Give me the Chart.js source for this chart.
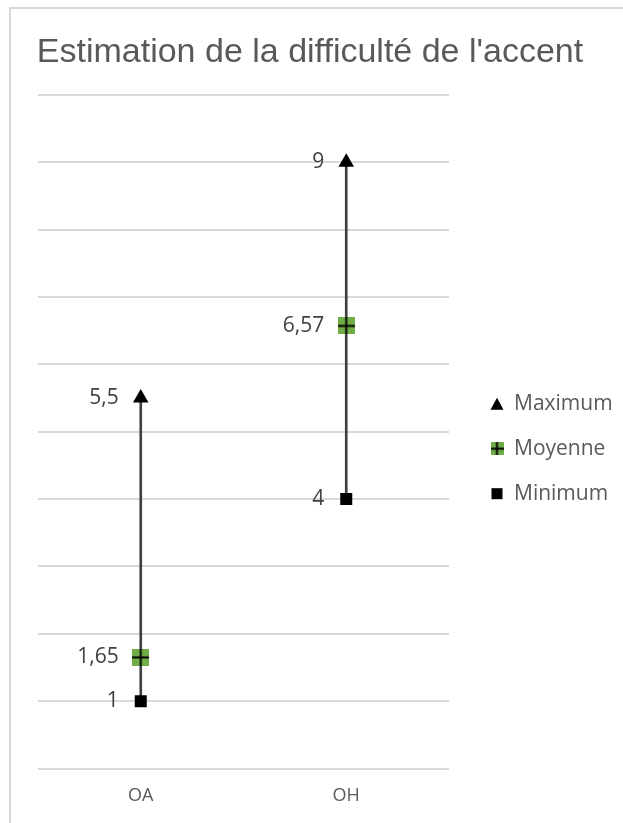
<!DOCTYPE html>
<html>
<head>
<meta charset="utf-8">
<script src="https://cdn.jsdelivr.net/npm/chart.js@4"></script>
<style>
    html, body { margin: 0; padding: 0; background: #fff; }
    #wrap { position: relative; width: 623px; height: 823px; overflow: hidden; }
    #frame { position: absolute; left: 9px; top: 7px; width: 700px; height: 900px; border: 2px solid #d9d9d9; box-sizing: border-box; }
    #accentChart { position: absolute; left: 0; top: 0; }
</style>
</head>
<body>
<div id="wrap">
    <div id="frame"></div>
    <canvas id="accentChart" width="623" height="823"></canvas>
</div>
<script>
var categories = ['OA', 'OH'];
var maxValues = [5.5, 9];
var meanValues = [1.65, 6.57];
var minValues = [1, 4];
var seriesNames = ['Maximum', 'Moyenne', 'Minimum'];
var yMin = 0, yMax = 10, yStep = 1;

var GRID = '#d9d9d9';
var TEXT = '#595959';
var LABEL = '#404040';
var GREEN = '#70ad47';
var FONT = '"Open Sans", sans-serif';

function meanMarker(size) {
    var c = document.createElement('canvas');
    c.width = size;
    c.height = size;
    var g = c.getContext('2d');
    g.fillStyle = GREEN;
    g.fillRect(0, 0, size, size);
    g.strokeStyle = '#000';
    g.lineWidth = 2;
    g.beginPath();
    g.moveTo(0, size / 2); g.lineTo(size, size / 2);
    g.moveTo(size / 2, 0); g.lineTo(size / 2, size);
    g.stroke();
    return c;
}

function fmt(v) {
    return String(v).replace('.', ',');
}

// labels to the left of each marker, like excel data labels
var valueLabels = {
    id: 'valueLabels',
    afterDatasetsDraw: function (chart) {
        var ctx = chart.ctx;
        ctx.save();
        ctx.font = '21px ' + FONT;
        ctx.fillStyle = LABEL;
        ctx.textAlign = 'right';
        ctx.textBaseline = 'middle';
        chart.data.datasets.forEach(function (ds, i) {
            if (ds.type === 'bar') return;
            chart.getDatasetMeta(i).data.forEach(function (pt, j) {
                ctx.fillText(fmt(ds.data[j]), pt.x - 22, pt.y);
            });
        });
        ctx.restore();
    }
};

// legend on the right side
var sideLegend = {
    id: 'sideLegend',
    afterDraw: function (chart) {
        var area = chart.chartArea;
        var ctx = chart.ctx;
        var x = area.right + 48;
        var y0 = (area.top + area.bottom) / 2 - 28;
        ctx.save();
        ctx.font = '21px ' + FONT;
        ctx.textAlign = 'left';
        ctx.textBaseline = 'middle';
        seriesNames.forEach(function (name, i) {
            var y = y0 + i * 45;
            if (i === 0) {
                ctx.fillStyle = '#000';
                ctx.beginPath();
                ctx.moveTo(x, y - 6);
                ctx.lineTo(x + 6.5, y + 6);
                ctx.lineTo(x - 6.5, y + 6);
                ctx.closePath();
                ctx.fill();
            } else if (i === 1) {
                ctx.drawImage(meanMarker(13), x - 6.5, y - 6.5);
            } else {
                ctx.fillStyle = '#000';
                ctx.fillRect(x - 5.5, y - 5.5, 11, 11);
            }
            ctx.fillStyle = TEXT;
            ctx.fillText(name, x + 17, y);
        });
        ctx.restore();
    }
};

new Chart(document.getElementById('accentChart'), {
    data: {
        labels: categories,
        datasets: [{
            type: 'line',
            label: seriesNames[0],
            data: maxValues,
            showLine: false,
            pointStyle: 'triangle',
            pointRadius: 9,
            backgroundColor: '#000',
            borderColor: '#000',
            borderWidth: 0,
            order: 1
        }, {
            type: 'line',
            label: seriesNames[1],
            data: meanValues,
            showLine: false,
            pointStyle: meanMarker(17),
            backgroundColor: GREEN,
            borderColor: GREEN,
            order: 2
        }, {
            type: 'line',
            label: seriesNames[2],
            data: minValues,
            showLine: false,
            pointStyle: 'rect',
            pointRadius: 8.5,
            backgroundColor: '#000',
            borderColor: '#000',
            borderWidth: 0,
            order: 3
        }, {
            // high-low line
            type: 'bar',
            label: 'range',
            data: categories.map(function (c, i) { return [minValues[i], maxValues[i]]; }),
            backgroundColor: '#404040',
            barThickness: 2,
            order: 10
        }]
    },
    options: {
        responsive: false,
        animation: false,
        events: [],
        layout: {
            padding: { left: 0, right: 3, top: 0, bottom: 0 }
        },
        plugins: {
            legend: { display: false },
            tooltip: { enabled: false },
            title: {
                display: true,
                text: "Estimation de la difficulté de l'accent",
                color: TEXT,
                font: { family: '"Liberation Sans", Arial, sans-serif', size: 34, weight: 'normal' },
                padding: { top: 32, bottom: 22 }
            }
        },
        scales: {
            x: {
                offset: true,
                grid: { display: false, drawTicks: false },
                border: { display: false },
                ticks: { color: TEXT, font: { family: FONT, size: 18, lineHeight: 0.8 }, padding: 20 }
            },
            y: {
                min: yMin,
                max: yMax,
                ticks: { display: false, stepSize: yStep },
                grid: { color: GRID, lineWidth: 2, drawTicks: false },
                border: { display: false },
                afterFit: function (scale) { scale.width = 38; }
            },
            // empty axis on the right that keeps room for the legend
            side: {
                type: 'linear',
                position: 'right',
                display: true,
                ticks: { display: false },
                grid: { display: false, drawTicks: false },
                border: { display: false },
                afterFit: function (scale) { scale.width = 171; }
            }
        }
    },
    plugins: [valueLabels, sideLegend]
});
</script>
</body>
</html>
